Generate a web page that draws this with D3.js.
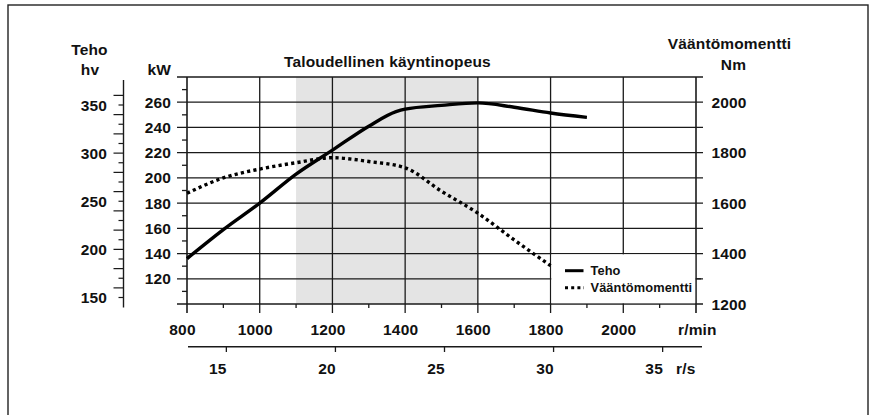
<!DOCTYPE html>
<html><head><meta charset="utf-8">
<script src="https://cdn.jsdelivr.net/npm/d3@7"></script>
<style>
html,body{margin:0;padding:0;background:#fff;}
svg{display:block;}
text{font-family:"Liberation Sans",Arial,Helvetica,sans-serif;font-weight:bold;fill:#111;}
</style></head>
<body>
<svg id="c" width="877" height="415"></svg>
<script>
// ---- data ----
const rpmTicks = [800, 1000, 1200, 1400, 1600, 1800, 2000];
const rpmMinor = [900, 1100, 1300, 1500, 1700, 1900, 2100];
const rpsTicks = [15, 20, 25, 30, 35];
const kwTicks = [120, 140, 160, 180, 200, 220, 240, 260];
const hvTicks = [150, 200, 250, 300, 350];
const nmTicks = [1200, 1400, 1600, 1800, 2000];
const ecoRange = [1100, 1600];
const tehoRpm = [800, 900, 1000, 1100, 1200, 1300, 1375, 1400, 1500, 1600, 1700, 1800, 1900];
const tehoKw  = [136, 159, 180, 203, 222, 241, 252.5, 254.5, 257.5, 259.5, 256, 251.5, 248];
const torqueRpm = [800, 900, 1000, 1100, 1200, 1300, 1400, 1500, 1600, 1700, 1800];
const torqueNm  = [1639, 1700, 1735, 1760, 1780, 1765, 1740, 1647, 1560, 1454, 1352];
const labels = {
  title: "Taloudellinen käyntinopeus",
  hvTitle1: "Teho", hvTitle2: "hv", kw: "kW",
  nmTitle1: "Vääntömomentti", nmTitle2: "Nm",
  rpm: "r/min", rps: "r/s",
  legTeho: "Teho", legTorque: "Vääntömomentti"
};

// ---- scales ----
const svg = d3.select("#c");
const x = d3.scaleLinear().domain([800, 2200]).range([187, 696]);
const yKw = d3.scaleLinear().domain([100, 280]).range([304, 77]);
const yNm = d3.scaleLinear().domain([1200, 2100]).range([304, 77]);
const yHv = d3.scaleLinear().domain([150, 350]).range([297.5, 105]);

// frame
svg.append("rect").attr("x", 8).attr("y", 5).attr("width", 860).attr("height", 430)
  .attr("fill", "none").attr("stroke", "#222").attr("stroke-width", 1.4);

// shaded economic range
svg.append("rect").attr("x", x(ecoRange[0])).attr("y", yKw(280))
  .attr("width", x(ecoRange[1]) - x(ecoRange[0])).attr("height", yKw(100) - yKw(280))
  .attr("fill", "#e4e4e4");

// horizontal grid (every 20 kW) extending as ticks on both sides
const grid = svg.append("g").attr("stroke", "#1a1a1a").attr("stroke-width", 1.3);
d3.range(100, 281, 20).forEach(v => {
  grid.append("line").attr("x1", 177).attr("x2", 703)
    .attr("y1", yKw(v)).attr("y2", yKw(v));
});
// minor kW ticks
d3.range(110, 280, 20).forEach(v => {
  grid.append("line").attr("x1", 182).attr("x2", x(800))
    .attr("y1", yKw(v)).attr("y2", yKw(v));
});
// vertical grid
d3.range(800, 2201, 200).forEach(v => {
  grid.append("line").attr("x1", x(v)).attr("x2", x(v))
    .attr("y1", yKw(280)).attr("y2", 313)
    .attr("stroke-width", (v === 800 || v === 2200) ? 1.6 : 1.3);
});
rpmMinor.forEach(v => {
  grid.append("line").attr("x1", x(v)).attr("x2", x(v))
    .attr("y1", 304).attr("y2", 308);
});

// legend box (white area, borders are grid lines)
svg.append("rect").attr("x", x(1800) + 0.8).attr("y", yKw(140) + 0.8)
  .attr("width", x(2200) - x(1800) - 1.6).attr("height", yKw(100) - yKw(140) - 1.6)
  .attr("fill", "#fff");
// right tick for 1300 Nm
grid.append("line").attr("x1", x(2200)).attr("x2", 701)
  .attr("y1", yNm(1300)).attr("y2", yNm(1300));

// kW labels
const gl = svg.append("g").attr("font-size", "15.5px").attr("letter-spacing", "0.15px");
kwTicks.forEach(v => {
  gl.append("text").attr("x", 171).attr("y", yKw(v)).attr("dy", "0.36em")
    .attr("text-anchor", "end").text(v);
});
// hv axis
svg.append("line").attr("x1", 123.5).attr("x2", 123.5).attr("y1", 80).attr("y2", 307.5)
  .attr("stroke", "#1a1a1a").attr("stroke-width", 1.4);
d3.range(150, 361, 10).forEach(v => {
  svg.append("line").attr("x1", v % 20 === 0 ? 113.5 : 118.5).attr("x2", 123.5)
    .attr("y1", yHv(v)).attr("y2", yHv(v)).attr("stroke", "#1a1a1a").attr("stroke-width", 1.2);
});
hvTicks.forEach(v => {
  gl.append("text").attr("x", 107).attr("y", yHv(v)).attr("dy", "0.36em")
    .attr("text-anchor", "end").text(v);
});
// Nm labels
nmTicks.forEach(v => {
  gl.append("text").attr("x", 711.5).attr("y", yNm(v)).attr("dy", "0.36em")
    .attr("text-anchor", "start").text(v);
});
// rpm labels
rpmTicks.forEach(v => {
  gl.append("text").attr("x", x(v) - 4.5).attr("y", 335)
    .attr("text-anchor", "middle").text(v);
});
gl.append("text").attr("x", 678).attr("y", 335).text(labels.rpm);

// r/s axis
svg.append("line").attr("x1", 188).attr("x2", 702).attr("y1", 346.7).attr("y2", 346.7)
  .attr("stroke", "#1a1a1a").attr("stroke-width", 1.4);
rpsTicks.forEach(v => {
  svg.append("line").attr("x1", x(v * 60) + 3).attr("x2", x(v * 60) + 3)
    .attr("y1", 346.7).attr("y2", 352).attr("stroke", "#1a1a1a").attr("stroke-width", 1.3);
  gl.append("text").attr("x", x(v * 60) - 5.5).attr("y", 373.5)
    .attr("text-anchor", "middle").text(v);
});
gl.append("text").attr("x", 676).attr("y", 373.5).text(labels.rps);

// titles
gl.append("text").attr("x", 284).attr("y", 66.5).text(labels.title);
gl.append("text").attr("x", 89.5).attr("y", 55).attr("text-anchor", "middle").text(labels.hvTitle1);
gl.append("text").attr("x", 90).attr("y", 74.5).attr("text-anchor", "middle").text(labels.hvTitle2);
gl.append("text").attr("x", 171).attr("y", 74.5).attr("text-anchor", "end").text(labels.kw);
gl.append("text").attr("x", 729.5).attr("y", 49).attr("text-anchor", "middle").text(labels.nmTitle1);
gl.append("text").attr("x", 733.5).attr("y", 69.5).attr("text-anchor", "middle").text(labels.nmTitle2);

// curves
const tehoLine = d3.line().x(d => x(d[0])).y(d => yKw(d[1])).curve(d3.curveMonotoneX);
svg.append("path").attr("d", tehoLine(d3.zip(tehoRpm, tehoKw)))
  .attr("fill", "none").attr("stroke", "#000").attr("stroke-width", 3.4)
  .attr("stroke-linejoin", "round");
const torqueLine = d3.line().x(d => x(d[0])).y(d => yNm(d[1])).curve(d3.curveMonotoneX);
svg.append("path").attr("d", torqueLine(d3.zip(torqueRpm, torqueNm)))
  .attr("fill", "none").attr("stroke", "#000").attr("stroke-width", 3.4)
  .attr("stroke-dasharray", "3.2,3.2");

// legend
svg.append("line").attr("x1", 565).attr("x2", 583.5).attr("y1", 270.7).attr("y2", 270.7)
  .attr("stroke", "#000").attr("stroke-width", 3);
svg.append("line").attr("x1", 565).attr("x2", 584).attr("y1", 287.7).attr("y2", 287.7)
  .attr("stroke", "#000").attr("stroke-width", 3).attr("stroke-dasharray", "3,3.2");
const lg = svg.append("g").attr("font-size", "12.8px").attr("letter-spacing", "0.1px");
lg.append("text").attr("x", 590.5).attr("y", 274.8).text(labels.legTeho);
lg.append("text").attr("x", 590.5).attr("y", 291.8).text(labels.legTorque);
</script>
</body></html>
